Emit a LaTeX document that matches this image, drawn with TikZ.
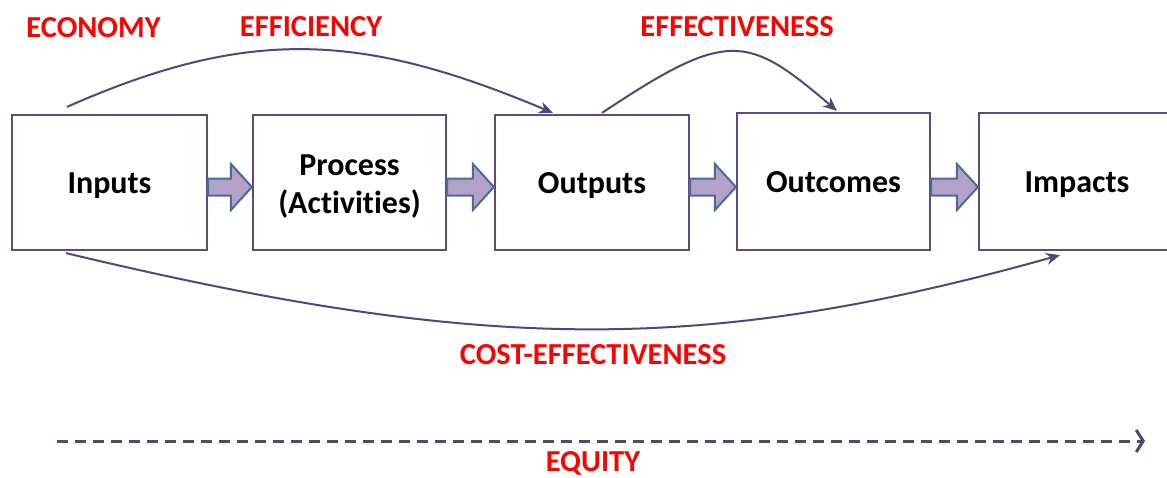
\documentclass[tikz,border=0pt]{standalone}
\usepackage{fontspec}
\setmainfont{Carlito}[Ligatures={NoCommon}]
\usetikzlibrary{arrows.meta,calc}
\definecolor{boxline}{HTML}{604A7B}
\definecolor{curveline}{HTML}{54457A}
\definecolor{afill}{HTML}{B3A2C7}
\definecolor{aline}{HTML}{4A6A9A}
\definecolor{labred}{HTML}{FF0000}
\newcommand\blockarr[2]{%
  \draw[barrow] let \p1=(#1.east), \p2=(#2.west) in
    (\x1,-178.5pt) -- (\x2-21pt,-178.5pt) -- (\x2-21pt,-164pt) -- (\x2,-187pt)
    -- (\x2-21pt,-210pt) -- (\x2-21pt,-195.5pt) -- (\x1,-195.5pt) -- cycle;}
\begin{document}
\begin{tikzpicture}[x=1pt,y=-1pt,
  stagebox/.style={draw=boxline,line width=2.2pt,minimum width=195pt,minimum height=135pt,
    inner sep=0pt,align=center,font=\fontsize{32}{38}\selectfont\bfseries,
    text height=22pt,text depth=0pt},
  lab/.style={text=labred,font=\fontsize{30.5}{36}\selectfont\bfseries,inner sep=0pt},
  link/.style={draw=curveline,line width=2pt,-{Stealth[length=14pt,width=12pt]}},
  barrow/.style={fill=afill,draw=aline,line width=2pt,line join=miter},
  eqline/.style={draw=curveline,line width=3pt,dash pattern=on 11pt off 7pt,
    -{Straight Barb[length=7pt,width=22pt,line width=3pt]}}]
\useasboundingbox (0,0) rectangle (1167,477);
\fill[white] (0,0) rectangle (1167,477);

\node[stagebox] (in) at (109.5,182.5) {Inputs};
\node[stagebox,minimum width=193pt,text height={},text depth={}] (pr) at (349.5,182.5) {\rule{0pt}{29pt}Process\\(Activities)};
\node[stagebox,minimum width=194pt] (out) at (592,182.5) {Outputs};
\node[stagebox,minimum width=193pt,minimum height=137pt] (oc) at (833.5,181.5) {Outcomes};
\node[stagebox,minimum width=196pt,minimum height=137pt] (im) at (1077,181.5) {Impacts};

\blockarr{in}{pr}
\blockarr{pr}{out}
\blockarr{out}{oc}
\blockarr{oc}{im}

\coordinate (effs) at ($(in.north)+(-42.5,-7)$);
\coordinate (effe) at ($(out.north)+(-39,-1)$);
\draw[link] (effs) .. controls (250,26) and (363,33) .. (effe);

\coordinate (ess) at ($(out.north)+(10,-1)$);
\coordinate (ese) at ($(oc.north)+(3.5,-1)$);
\draw[link] (ess) .. controls (728,29) and (747,34) .. (ese);

\coordinate (ces) at ($(in.south)+(-43.5,2)$);
\coordinate (cee) at ($(im.south)+(-17,4)$);
\draw[link] (ces) .. controls (480,352) and (700,356) .. (cee);

\coordinate (eqs) at (57,441);
\coordinate (eqe) at (1145,441);
\draw[eqline] (eqs) -- (eqe);

\node[lab] (leco) at (93.5,28) {ECONOMY};
\node[lab] (leff) at (311,27) {EFFICIENCY};
\node[lab] (lefv) at (737,27) {EFFECTIVENESS};
\node[lab] (lcost) at (593,355) {COST-EFFECTIVENESS};
\node[lab] (lequ) at (593,463) {EQUITY};
\end{tikzpicture}
\end{document}
